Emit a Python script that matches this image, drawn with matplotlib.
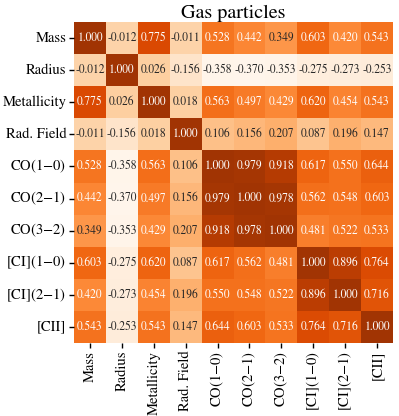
import numpy as np
import matplotlib
matplotlib.use("Agg")
import matplotlib.pyplot as plt
import seaborn as sns

labels = ["Mass", "Radius", "Metallicity", "Rad. Field",
          "CO(1$-$0)", "CO(2$-$1)", "CO(3$-$2)",
          "[CI](1$-$0)", "[CI](2$-$1)", "[CII]"]

row_mass = [1.000, -0.012, 0.775, -0.011, 0.528, 0.442, 0.349, 0.603, 0.420, 0.543]
row_radius = [-0.012, 1.000, 0.026, -0.156, -0.358, -0.370, -0.353, -0.275, -0.273, -0.253]
row_metal = [0.775, 0.026, 1.000, 0.018, 0.563, 0.497, 0.429, 0.620, 0.454, 0.543]
row_rad = [-0.011, -0.156, 0.018, 1.000, 0.106, 0.156, 0.207, 0.087, 0.196, 0.147]
row_co10 = [0.528, -0.358, 0.563, 0.106, 1.000, 0.979, 0.918, 0.617, 0.550, 0.644]
row_co21 = [0.442, -0.370, 0.497, 0.156, 0.979, 1.000, 0.978, 0.562, 0.548, 0.603]
row_co32 = [0.349, -0.353, 0.429, 0.207, 0.918, 0.978, 1.000, 0.481, 0.522, 0.533]
row_ci10 = [0.603, -0.275, 0.620, 0.087, 0.617, 0.562, 0.481, 1.000, 0.896, 0.764]
row_ci21 = [0.420, -0.273, 0.454, 0.196, 0.550, 0.548, 0.522, 0.896, 1.000, 0.716]
row_cii = [0.543, -0.253, 0.543, 0.147, 0.644, 0.603, 0.533, 0.764, 0.716, 1.000]

corr = np.array([row_mass, row_radius, row_metal, row_rad, row_co10,
                 row_co21, row_co32, row_ci10, row_ci21, row_cii])

plt.rcParams["font.family"] = "STIXGeneral"
plt.rcParams["mathtext.fontset"] = "stix"

fig = plt.figure(figsize=(3.99, 4.16), dpi=100)
ax = fig.add_axes([74 / 399, 1 - 343 / 416, 319 / 399, 321 / 416])
sns.heatmap(corr, ax=ax, cmap="Oranges", vmin=-0.37, vmax=1.17,
            annot=True, fmt=".3f", annot_kws={"size": 8.3}, cbar=False,
            xticklabels=labels, yticklabels=labels)
ax.tick_params(axis="both", labelsize=10.5, length=3.5, width=1, pad=2)
plt.setp(ax.get_xticklabels(), rotation=90)
plt.setp(ax.get_yticklabels(), rotation=0)
ax.set_title("Gas particles", fontsize=14.5, pad=3)

fig.savefig("out.png", dpi=100)
